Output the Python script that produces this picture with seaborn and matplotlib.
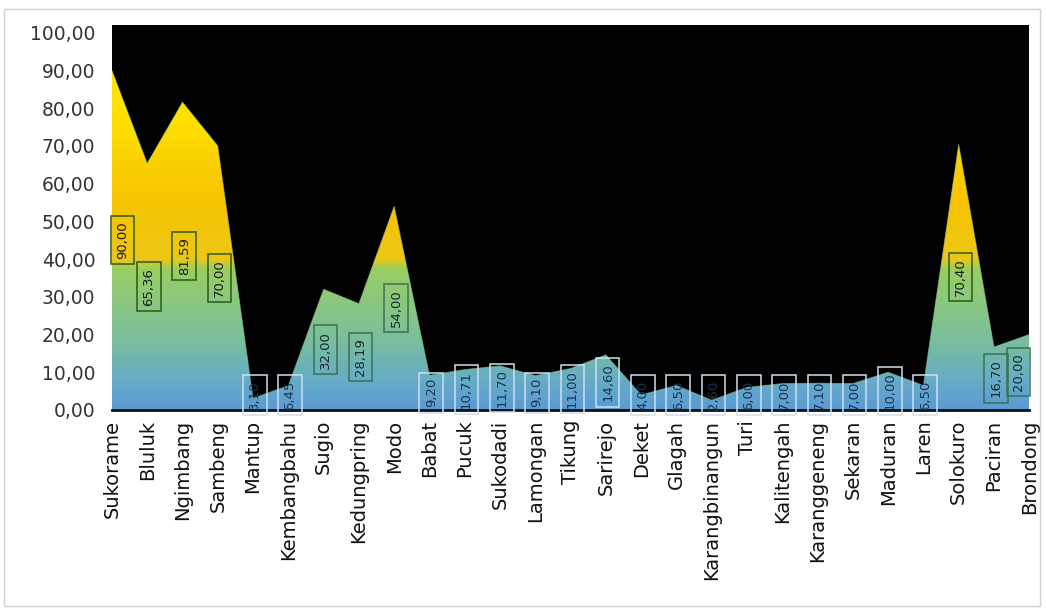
import numpy as np
import pandas as pd
import matplotlib
matplotlib.use("Agg")
import matplotlib.pyplot as plt
from matplotlib.colors import LinearSegmentedColormap
from matplotlib.patches import Rectangle
import seaborn as sns

# Kecamatan di Kabupaten Lamongan
kecamatan = [
    "Sukorame", "Bluluk", "Ngimbang", "Sambeng", "Mantup", "Kembangbahu",
    "Sugio", "Kedungpring", "Modo", "Babat", "Pucuk", "Sukodadi", "Lamongan",
    "Tikung", "Sarirejo", "Deket", "Glagah", "Karangbinangun", "Turi",
    "Kalitengah", "Karanggeneng", "Sekaran", "Maduran", "Laren", "Solokuro",
    "Paciran", "Brondong",
]
nilai = [
    90.00, 65.36, 81.59, 70.00, 3.10, 6.45,
    32.00, 28.19, 54.00, 9.20, 10.71, 11.70, 9.10,
    11.00, 14.60, 4.00, 6.50, 2.60, 6.00,
    7.00, 7.10, 7.00, 10.00, 6.50, 70.40,
    16.70, 20.00,
]
yticks = [0, 10, 20, 30, 40, 50, 60, 70, 80, 90, 100]

df = pd.DataFrame({"kecamatan": kecamatan, "nilai": nilai})
df["pos"] = np.arange(len(df))

sns.set_theme(style="white")
plt.rcParams["font.family"] = ["DejaVu Sans"]

fig = plt.figure(figsize=(10.46, 6.11), dpi=100)
fig.patch.set_facecolor("white")
fig.add_artist(Rectangle((0.004, 0.008), 0.99, 0.978, transform=fig.transFigure,
                         fill=False, edgecolor="#d0d0d0", linewidth=1.0))

ax = fig.add_axes([0.107, 0.329, 0.877, 0.630])
ax.set_facecolor("black")
ax.set_xlim(0, len(df) - 1)
ax.set_ylim(0, 102)

# vertical gradient for the filled area
grad = LinearSegmentedColormap.from_list("isi", [
    (0.00, "#5B9BD5"),
    (0.08, "#66ADC6"),
    (0.18, "#79BE9E"),
    (0.30, "#8DC97A"),
    (0.37, "#97CE63"),
    (0.40, "#ECC716"),
    (0.55, "#F6C300"),
    (0.75, "#FFDE00"),
    (1.00, "#FFF000"),
])
gy = np.linspace(0, 1, 400).reshape(-1, 1)
img = ax.imshow(gy, cmap=grad, aspect="auto", origin="lower",
                extent=[0, len(df) - 1, 0, 100], zorder=1)
poly = ax.fill_between(df["pos"], 0, df["nilai"], color="none", zorder=1)
clip = poly.get_paths()[0]
img.set_clip_path(clip, ax.transData)

sns.lineplot(data=df, x="pos", y="nilai", ax=ax, color="#8fbf8a",
             linewidth=0.6, alpha=0.6, zorder=2)

# data labels at the middle of each area column
n = len(df)
for x, v in zip(df["pos"], df["nilai"]):
    label = f"{v:.2f}".replace(".", ",")
    if v / 2 > 30:
        ec, tc = "#2d5a16", "#1a1a1a"
    elif v / 2 > 8:
        ec, tc = "#3f6f52", "#1a2a2a"
    else:
        ec, tc = "#cfe0f0", "#1c3350"
    xx = x + 0.05
    if x == 0:
        xx = x + 0.3
    elif x == n - 1:
        xx = x - 0.3
    ax.text(xx, max(v / 2, 4.0), label, rotation=90, ha="center", va="center",
            fontsize=9.5, color=tc, zorder=4,
            bbox=dict(boxstyle="square,pad=0.4", fc="none", ec=ec, lw=1.1))

ax.set_xticks(df["pos"])
ax.set_xticklabels(df["kecamatan"], rotation=90, fontsize=14, color="#111111")
ax.set_yticks(yticks)
ax.set_yticklabels([f"{t:.2f}".replace(".", ",") for t in yticks],
                   fontsize=13.5, color="#333333")
ax.tick_params(axis="x", length=0, pad=7)
ax.tick_params(axis="y", length=0, pad=12)
ax.set_xlabel("")
ax.set_ylabel("")
for s in ax.spines.values():
    s.set_visible(False)
ax.spines["bottom"].set_visible(True)
ax.spines["bottom"].set_color("#101010")
ax.spines["bottom"].set_linewidth(2)

fig.savefig("out.png", dpi=100, facecolor="white")
